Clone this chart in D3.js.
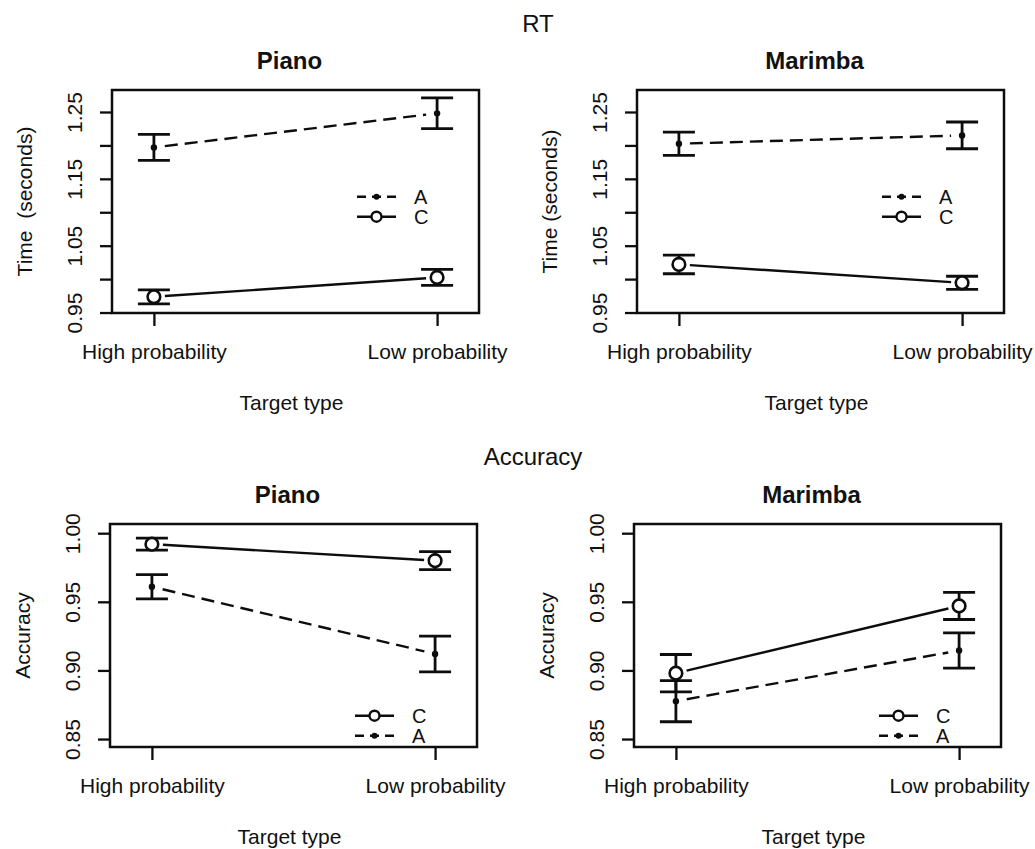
<!DOCTYPE html>
<html>
<head>
<meta charset="utf-8">
<script src="https://cdn.jsdelivr.net/npm/d3@7"></script>
<style>
  body { margin: 0; background: #fff; }
  svg { display: block; }
  text { font-family: "Liberation Sans", Arial, sans-serif; fill: #111; }
</style>
</head>
<body>
<svg id="chart" width="1035" height="849"></svg>
<script>
const targetTypes = ["High probability", "Low probability"];

// RT, seconds (mean and half error bar)
const rtPianoA = [1.197, 1.248];
const rtPianoAErr = [0.0195, 0.023];
const rtPianoC = [0.9735, 1.0025];
const rtPianoCErr = [0.0105, 0.012];
const rtMarimbaA = [1.2025, 1.215];
const rtMarimbaAErr = [0.0175, 0.020];
const rtMarimbaC = [1.022, 0.9945];
const rtMarimbaCErr = [0.014, 0.0098];

// Accuracy
const accPianoC = [0.992, 0.980];
const accPianoCErr = [0.0044, 0.0066];
const accPianoA = [0.961, 0.912];
const accPianoAErr = [0.0088, 0.013];
const accMarimbaC = [0.898, 0.947];
const accMarimbaCErr = [0.0136, 0.0099];
const accMarimbaA = [0.8776, 0.9145];
const accMarimbaAErr = [0.015, 0.0128];

const rtTicks = [0.95, 1.00, 1.05, 1.10, 1.15, 1.20, 1.25];
const rtTickLabels = ["0.95", "", "1.05", "", "1.15", "", "1.25"];
const accTicks = [0.85, 0.90, 0.95, 1.00];
const accTickLabels = ["0.85", "0.90", "0.95", "1.00"];

const svg = d3.select("#chart");
const W = 367, H = 223;
const ink = "#0d0d0d";

// row headers
svg.append("text").attr("x", 538).attr("y", 31.5).attr("text-anchor", "middle")
  .style("font-size", "24px").text("RT");
svg.append("text").attr("x", 533).attr("y", 465).attr("text-anchor", "middle")
  .style("font-size", "24px").text("Accuracy");

const rtSeries = (a, aErr, c, cErr) => [
  { name: "A", values: a, err: aErr, dashed: true },
  { name: "C", values: c, err: cErr, dashed: false },
];
const accSeries = (c, cErr, a, aErr) => [
  { name: "C", values: c, err: cErr, dashed: false },
  { name: "A", values: a, err: aErr, dashed: true },
];

const panels = [
  { title: "Piano", left: 112, top: 90, yLabel: "Time  (seconds)", domain: [0.9493, 1.2829],
    ticks: rtTicks, tickLabels: rtTickLabels, legendY: [106.7, 126.7],
    series: rtSeries(rtPianoA, rtPianoAErr, rtPianoC, rtPianoCErr) },
  { title: "Marimba", left: 637, top: 90, yLabel: "Time (seconds)", domain: [0.9493, 1.2829],
    ticks: rtTicks, tickLabels: rtTickLabels, legendY: [106.7, 126.7],
    series: rtSeries(rtMarimbaA, rtMarimbaAErr, rtMarimbaC, rtMarimbaCErr) },
  { title: "Piano", left: 110, top: 524, yLabel: "Accuracy", domain: [0.8442, 1.0067],
    ticks: accTicks, tickLabels: accTickLabels, legendY: [191.7, 211.7],
    series: accSeries(accPianoC, accPianoCErr, accPianoA, accPianoAErr) },
  { title: "Marimba", left: 634, top: 524, yLabel: "Accuracy", domain: [0.8442, 1.0067],
    ticks: accTicks, tickLabels: accTickLabels, legendY: [191.7, 211.7],
    series: accSeries(accMarimbaC, accMarimbaCErr, accMarimbaA, accMarimbaAErr) },
];

panels.forEach(p => {
  const g = svg.append("g").attr("transform", `translate(${p.left},${p.top})`);
  const x = d3.scalePoint().domain(targetTypes).range([0, W]).padding(0.148);
  const y = d3.scaleLinear().domain(p.domain).range([H, 0]);

  // title
  g.append("text").attr("x", W / 2 - 6).attr("y", -21.5).attr("text-anchor", "middle")
    .style("font-size", "24px").style("font-weight", "bold").text(p.title);

  // y axis with rotated labels
  const ya = g.append("g").call(d3.axisLeft(y).tickValues(p.ticks).tickSize(12)
    .tickFormat((d, i) => p.tickLabels[i]));
  ya.select(".domain").remove();
  ya.selectAll("line").attr("stroke", ink).attr("stroke-width", 2.3);
  ya.selectAll("text").attr("transform", "rotate(-90)").attr("x", 0).attr("y", -30.5)
    .attr("dy", 0).attr("text-anchor", "middle").attr("font-family", null).attr("font-size", null)
    .style("font-size", "21px");

  // x axis
  const xa = g.append("g").attr("transform", `translate(0,${H})`)
    .call(d3.axisBottom(x).tickSize(13));
  xa.select(".domain").remove();
  xa.selectAll("line").attr("stroke", ink).attr("stroke-width", 2.3);
  xa.selectAll("text").attr("y", 46).attr("dy", 0).attr("font-family", null).attr("font-size", null)
    .style("font-size", "21px");

  // axis titles
  g.append("text").attr("x", W / 2 - 4).attr("y", H + 96.7).attr("text-anchor", "middle")
    .style("font-size", "21px").text("Target type");
  g.append("text").attr("transform", `translate(-80,${H / 2}) rotate(-90)`)
    .attr("text-anchor", "middle").style("font-size", "21px").style("white-space", "pre")
    .text(p.yLabel);

  // box
  g.append("rect").attr("width", W).attr("height", H).attr("fill", "none")
    .attr("stroke", ink).attr("stroke-width", 2.5);

  const gap = 11;
  p.series.forEach(s => {
    const pts = targetTypes.map((t, i) => [x(t), y(s.values[i])]);
    const dx = pts[1][0] - pts[0][0], dy = pts[1][1] - pts[0][1];
    const len = Math.hypot(dx, dy);
    g.append("line")
      .attr("x1", pts[0][0] + dx / len * gap).attr("y1", pts[0][1] + dy / len * gap)
      .attr("x2", pts[1][0] - dx / len * gap).attr("y2", pts[1][1] - dy / len * gap)
      .attr("stroke", ink).attr("stroke-width", 2.4)
      .attr("stroke-dasharray", s.dashed ? "13,7" : null);

    targetTypes.forEach((t, i) => {
      const cx = x(t), hi = y(s.values[i] + s.err[i]), lo = y(s.values[i] - s.err[i]);
      const eb = g.append("g").attr("stroke", ink).attr("stroke-width", 2.8);
      eb.append("line").attr("x1", cx).attr("x2", cx).attr("y1", hi).attr("y2", lo);
      eb.append("line").attr("x1", cx - 16).attr("x2", cx + 16).attr("y1", hi).attr("y2", hi);
      eb.append("line").attr("x1", cx - 16).attr("x2", cx + 16).attr("y1", lo).attr("y2", lo);
    });

    g.selectAll(null).data(pts).enter().append("circle")
      .attr("cx", d => d[0]).attr("cy", d => d[1])
      .attr("r", s.dashed ? 3.2 : 6.3)
      .attr("fill", s.dashed ? ink : "#fff")
      .attr("stroke", ink).attr("stroke-width", s.dashed ? 0 : 2.6);
  });

  // legend
  p.series.forEach((s, i) => {
    const ly = p.legendY[i];
    g.append("line").attr("x1", 245).attr("x2", 284).attr("y1", ly).attr("y2", ly)
      .attr("stroke", ink).attr("stroke-width", 2.4)
      .attr("stroke-dasharray", s.dashed ? "9,6" : null);
    g.append("circle").attr("cx", 264.5).attr("cy", ly)
      .attr("r", s.dashed ? 3 : 5)
      .attr("fill", s.dashed ? ink : "#fff")
      .attr("stroke", ink).attr("stroke-width", s.dashed ? 0 : 2.4);
    g.append("text").attr("x", 302).attr("y", ly + 7.5).style("font-size", "20px").text(s.name);
  });
});
</script>
</body>
</html>
